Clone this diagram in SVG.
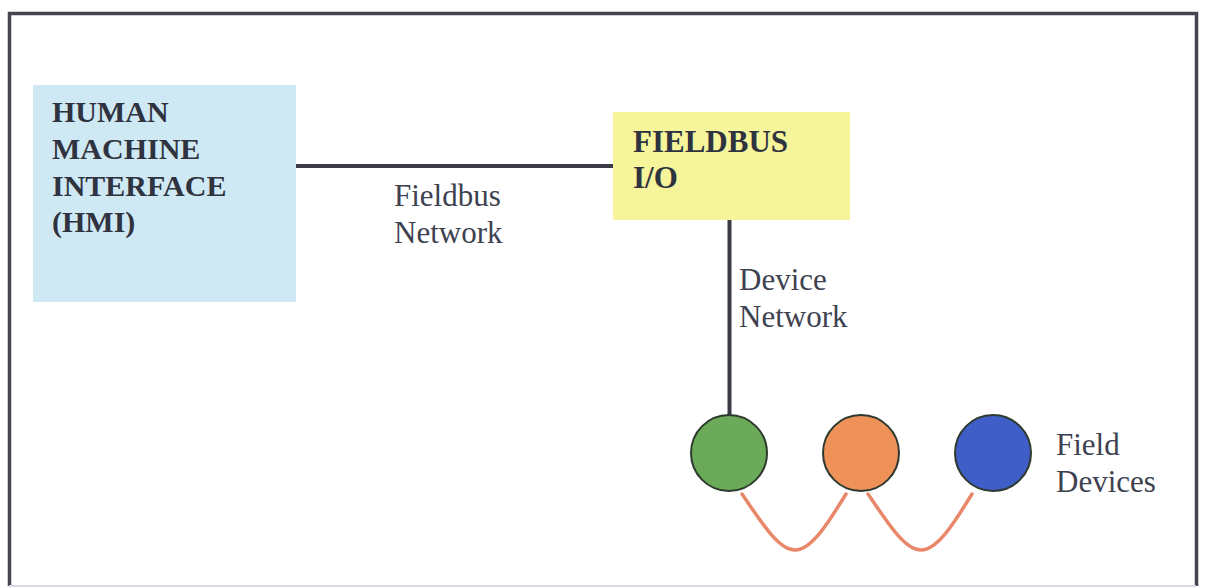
<svg xmlns="http://www.w3.org/2000/svg" width="1205" height="588" viewBox="0 0 1205 588">
  <style>
    .title { font-family: "Liberation Serif", "Times New Roman", serif; font-weight: bold; font-size: 30px; fill: #2f3340; }
    .io { font-size: 31px; }
    .label { font-family: "Liberation Serif", "Times New Roman", serif; font-size: 31px; fill: #3e4250; }
    .wire { stroke: #3b3b48; stroke-width: 4; fill: none; }
    .bus { stroke: #e9876a; stroke-width: 3.5; fill: none; stroke-linecap: round; }
    .dev { stroke: #2e3a2e; stroke-width: 2; }
  </style>
  <rect width="1205" height="588" fill="#ffffff"/>
  <!-- outer frame -->
  <path d="M9.5 586 V13.5 H1196.5 V586" fill="none" stroke="#454552" stroke-width="3.5"/>
  <line x1="9" y1="586" x2="1196" y2="586" stroke="#d8dbe2" stroke-width="2"/>

  <g id="connectors">
    <line class="wire" x1="296" y1="166" x2="613" y2="166"/>
    <line class="wire" x1="729.5" y1="220" x2="729.5" y2="416"/>
    <path class="bus" d="M742 494 C760 520 778 550 795 550 C812 550 830 520 846 494"/>
    <path class="bus" d="M868 494 C886 520 904 550 921 550 C938 550 956 520 972 494"/>
  </g>

  <g id="hmi">
    <rect x="33" y="85" width="263" height="217" fill="#cfe9f4"/>
    <text class="title" x="52" y="122">HUMAN</text>
    <text class="title" x="52" y="159">MACHINE</text>
    <text class="title" x="52" y="196">INTERFACE</text>
    <text class="title" x="52" y="232">(HMI)</text>
  </g>

  <g id="fieldbus-io">
    <rect x="613" y="112" width="237" height="108" fill="#f7f59c"/>
    <text class="title io" x="633" y="152">FIELDBUS</text>
    <text class="title io" x="633" y="188">I/O</text>
  </g>

  <g id="fieldbus-network-label">
    <text class="label" x="394" y="206">Fieldbus</text>
    <text class="label" x="394" y="243">Network</text>
  </g>

  <g id="device-network-label">
    <text class="label" x="739" y="290">Device</text>
    <text class="label" x="739" y="327">Network</text>
  </g>

  <g id="device-green">
    <circle class="dev" cx="729" cy="453" r="38" fill="#6aaa58"/>
  </g>
  <g id="device-orange">
    <circle class="dev" cx="861" cy="453" r="38" fill="#ee925a"/>
  </g>
  <g id="device-blue">
    <circle class="dev" cx="993" cy="453" r="38" fill="#3f5ec8"/>
  </g>

  <g id="field-devices-label">
    <text class="label" x="1056" y="455">Field</text>
    <text class="label" x="1056" y="492">Devices</text>
  </g>
</svg>
